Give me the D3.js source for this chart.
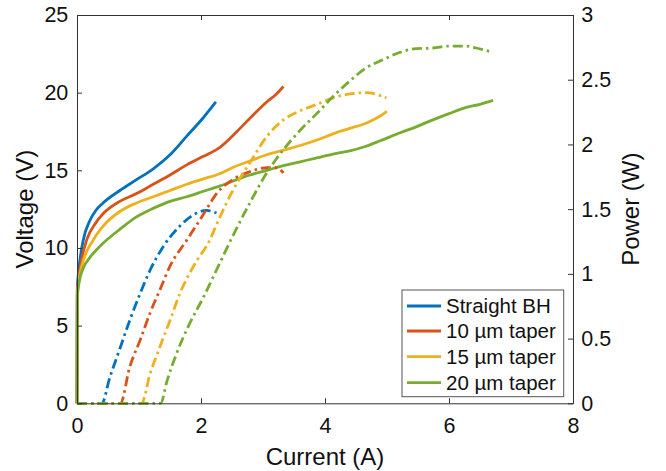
<!DOCTYPE html>
<html>
<head>
<meta charset="utf-8">
<script src="https://cdn.jsdelivr.net/npm/d3@7"></script>
<style>
  html, body { margin: 0; padding: 0; background: #fff; }
  svg { display: block; font-family: "Liberation Sans", Arial, Helvetica, sans-serif; }
</style>
</head>
<body>
<svg id="chart" width="666" height="471"></svg>
<script>
// Series names and colours
const seriesNames = ["Straight BH", "10 \u00b5m taper", "15 \u00b5m taper", "20 \u00b5m taper"];
const seriesColors = ["#0072BD", "#D95319", "#EDB120", "#77AC30"];

// Tick values
const currentTicks = [0, 2, 4, 6, 8];
const voltageTicks = [0, 5, 10, 15, 20, 25];
const powerTicks = [0, 0.5, 1, 1.5, 2, 2.5, 3];

// Voltage vs current [A, V]
const voltageStraight = [[0,0],[0.005,7.4],[0.03,8.6],[0.1,10.5],[0.2,11.7],[0.3,12.4],[0.42,12.9],[0.69,13.7],[0.96,14.4],[1.23,15.1],[1.5,16.0],[1.77,17.2],[2.04,18.4],[2.24,19.4]];
const voltage10 = [[0,0],[0.005,7.2],[0.05,8.7],[0.155,10.5],[0.3,11.6],[0.42,12.2],[0.69,13.0],[0.96,13.5],[1.23,14.1],[1.5,14.7],[1.77,15.35],[2.04,15.9],[2.31,16.5],[2.58,17.5],[2.85,18.6],[3.06,19.4],[3.2,19.85],[3.33,20.4]];
const voltage15 = [[0,0],[0.005,7.0],[0.075,8.8],[0.26,10.5],[0.42,11.4],[0.69,12.35],[0.96,12.9],[1.23,13.3],[1.5,13.7],[1.77,14.1],[2.04,14.45],[2.31,14.8],[2.52,15.2],[2.79,15.6],[3.06,16.0],[3.33,16.3],[3.6,16.6],[3.87,16.95],[4.13,17.35],[4.4,17.7],[4.67,18.05],[4.85,18.4],[5.0,18.8]];
const voltage20 = [[0,0],[0.005,6.8],[0.04,7.9],[0.1,8.7],[0.2,9.35],[0.32,9.9],[0.42,10.3],[0.69,11.2],[0.96,12.0],[1.23,12.55],[1.5,13.0],[1.77,13.3],[2.04,13.65],[2.31,14.0],[2.58,14.4],[2.79,14.7],[3.06,15.0],[3.33,15.3],[3.6,15.55],[3.87,15.8],[4.13,16.05],[4.4,16.25],[4.66,16.55],[4.89,16.9],[5.2,17.4],[5.47,17.8],[5.74,18.25],[6.0,18.65],[6.28,19.05],[6.5,19.25],[6.71,19.5]];

// Output power vs current [A, W]
const powerStraight = [[0,0],[0.4,0],[0.53,0.2],[0.69,0.42],[0.85,0.64],[1.02,0.85],[1.18,1.03],[1.39,1.21],[1.66,1.37],[1.93,1.47],[2.09,1.49],[2.25,1.47]];
const power10 = [[0,0],[0.7,0],[0.85,0.28],[1.02,0.49],[1.18,0.70],[1.34,0.88],[1.5,1.06],[1.77,1.26],[2.04,1.46],[2.25,1.62],[2.52,1.73],[2.79,1.79],[3.06,1.82],[3.22,1.82],[3.33,1.78]];
const power15 = [[0,0],[1.04,0],[1.18,0.23],[1.34,0.44],[1.5,0.64],[1.66,0.85],[1.88,1.06],[2.15,1.27],[2.25,1.38],[2.52,1.65],[2.79,1.86],[3.06,2.06],[3.33,2.19],[3.6,2.26],[3.87,2.31],[4.13,2.36],[4.4,2.39],[4.66,2.40],[4.99,2.36]];
const power20 = [[0,0],[1.35,0],[1.45,0.17],[1.61,0.39],[1.82,0.62],[2.04,0.82],[2.25,1.03],[2.52,1.30],[2.79,1.55],[3.06,1.78],[3.33,1.96],[3.6,2.11],[3.87,2.24],[4.13,2.37],[4.4,2.49],[4.66,2.59],[4.94,2.655],[5.2,2.71],[5.47,2.74],[5.74,2.745],[6.0,2.76],[6.28,2.76],[6.44,2.745],[6.71,2.71]];

const voltageSeries = [voltageStraight, voltage10, voltage15, voltage20];
const powerSeries = [powerStraight, power10, power15, power20];

const svg = d3.select("#chart");
const plotLeft = 77, plotRight = 573, plotTop = 15, plotBottom = 403.3;
const axisColor = "#333333";
const textColor = "#111111";
const tickFont = 21.5;

const x = d3.scaleLinear().domain([0, 8]).range([plotLeft, plotRight]);
const yV = d3.scaleLinear().domain([0, 25]).range([plotBottom, plotTop]);
const yP = d3.scaleLinear().domain([0, 3]).range([plotBottom, plotTop]);

function styleAxis(g) {
  g.select(".domain").attr("stroke", axisColor).attr("stroke-width", 1);
  g.selectAll(".tick line").attr("stroke", axisColor).attr("stroke-width", 1);
  g.selectAll(".tick text").attr("fill", textColor).style("font-size", tickFont + "px");
}

// Data lines: solid for voltage, dash-dot for power
const lineV = d3.line().x(d => x(d[0])).y(d => yV(d[1])).curve(d3.curveMonotoneX);
const lineP = d3.line().x(d => x(d[0])).y(d => yP(d[1])).curve(d3.curveMonotoneX);

const plot = svg.append("g");
voltageSeries.forEach((s, i) => {
  plot.append("path").datum(s)
    .attr("d", lineV)
    .attr("fill", "none")
    .attr("stroke", seriesColors[i])
    .attr("stroke-width", 2.8)
    .attr("stroke-linejoin", "round");
});
powerSeries.forEach((s, i) => {
  plot.append("path").datum(s)
    .attr("d", lineP)
    .attr("fill", "none")
    .attr("stroke", seriesColors[i])
    .attr("stroke-width", 2.8)
    .attr("stroke-dasharray", "10,4,2.5,4");
});

// Axes (ticks point inward)
svg.append("g").attr("transform", `translate(0,${plotBottom})`)
  .call(d3.axisBottom(x).tickValues(currentTicks).tickFormat(d3.format("d")).tickSizeInner(-5).tickSizeOuter(0).tickPadding(14.6))
  .call(styleAxis);
svg.append("g").attr("transform", `translate(0,${plotTop})`)
  .call(d3.axisTop(x).tickValues(currentTicks).tickFormat("").tickSizeInner(-5).tickSizeOuter(0))
  .call(styleAxis);
svg.append("g").attr("transform", `translate(${plotLeft},0)`)
  .call(d3.axisLeft(yV).tickValues(voltageTicks).tickFormat(d3.format("d")).tickSizeInner(-5).tickSizeOuter(0).tickPadding(8.7))
  .call(styleAxis);
svg.append("g").attr("transform", `translate(${plotRight},0)`)
  .call(d3.axisRight(yP).tickValues(powerTicks).tickFormat(d => String(d)).tickSizeInner(-5).tickSizeOuter(0).tickPadding(8.3))
  .call(styleAxis);

// Axis titles
svg.append("text")
  .attr("x", (plotLeft + plotRight) / 2).attr("y", 465)
  .attr("text-anchor", "middle").attr("fill", textColor)
  .style("font-size", "24px").text("Current (A)");
svg.append("text")
  .attr("transform", `translate(33,${(plotTop + plotBottom) / 2}) rotate(-90)`)
  .attr("text-anchor", "middle").attr("fill", textColor)
  .style("font-size", "24px").text("Voltage (V)");
svg.append("text")
  .attr("transform", `translate(639,${(plotTop + plotBottom) / 2}) rotate(-90)`)
  .attr("text-anchor", "middle").attr("fill", textColor)
  .style("font-size", "24px").text("Power (W)");

// Legend
const legend = svg.append("g").attr("transform", "translate(402,290)");
legend.append("rect")
  .attr("width", 161.7).attr("height", 106.7)
  .attr("fill", "#fff").attr("stroke", "#555").attr("stroke-width", 1);
const rowY = [16, 41, 66.7, 92.7];
seriesNames.forEach((name, i) => {
  legend.append("line")
    .attr("x1", 5).attr("x2", 39).attr("y1", rowY[i]).attr("y2", rowY[i])
    .attr("stroke", seriesColors[i]).attr("stroke-width", 2.8);
  legend.append("text")
    .attr("x", 44).attr("y", rowY[i]).attr("dy", "0.35em")
    .attr("fill", textColor).style("font-size", "20.5px")
    .text(name);
});
</script>
</body>
</html>
